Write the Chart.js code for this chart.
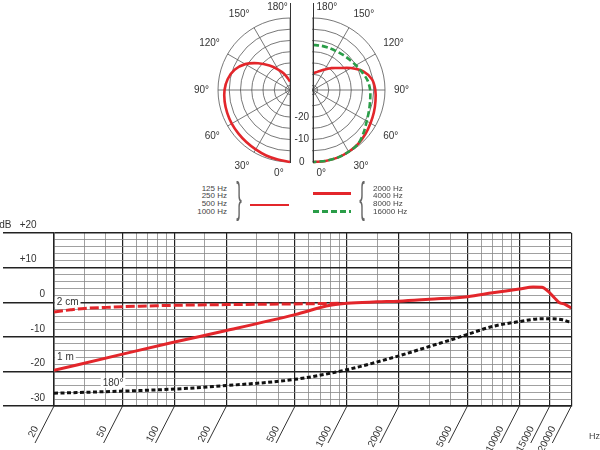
<!DOCTYPE html>
<html>
<head>
<meta charset="utf-8">
<script src="https://cdn.jsdelivr.net/npm/chart.js@4.4.0/dist/chart.umd.min.js"></script>
<style>
  html, body { margin: 0; padding: 0; background: #fff; }
  body { width: 600px; height: 450px; position: relative; overflow: hidden;
         font-family: "Liberation Sans", Arial, sans-serif; color: #333; }
  .abs { position: absolute; }
  .clip { position: absolute; top: 0; height: 185px; overflow: hidden; }
  .clip canvas { position: absolute; top: 1px; }
  .vline { position: absolute; top: 3px; height: 160px; width: 0; border-left: 1px solid #333; }
  .legtext { position: absolute; top: 184.5px; font-size: 8px; line-height: 7.9px; color: #444; white-space: nowrap; }
  .brace { position: absolute; font-size: 42px; line-height: 42px; color: #666; transform: scaleX(0.4); }
</style>
</head>
<body>

<div class="clip" style="left:0; width:291px;">
  <canvas id="polarLeft" width="220" height="178" style="left:180px;"></canvas>
</div>
<div class="clip" style="left:312px; width:288px;">
  <canvas id="polarRight" width="220" height="178" style="left:-109px;"></canvas>
</div>
<div class="vline" style="left:290px;"></div>
<div class="vline" style="left:313px;"></div>
<canvas id="polarTicks" class="abs" width="24" height="95" style="left:291px; top:80px;"></canvas>

<div class="legtext" style="right:373px; text-align:right;">125 Hz<br>250 Hz<br>500 Hz<br>1000 Hz</div>
<div class="brace" style="left:232px; top:177px;">}</div>
<div class="abs" style="left:250px; top:203.5px; width:39px; height:2px; background:#e3262b;"></div>
<div class="abs" style="left:313px; top:191.5px; width:38px; height:3px; background:#e3262b;"></div>
<div class="abs" style="left:313px; top:209.5px; width:38px; height:3px;
     background:repeating-linear-gradient(to right, #2a9d48 0 6px, transparent 6px 9px);"></div>
<div class="brace" style="left:355px; top:177px;">{</div>
<div class="legtext" style="left:373px;">2000 Hz<br>4000 Hz<br>8000 Hz<br>16000 Hz</div>

<canvas id="response" class="abs" width="600" height="230" style="left:0; top:220px;"></canvas>
<div class="abs" style="left:589px; top:431px; font-size:9px; color:#444;">Hz</div>

<script>
// polar pattern: level in dB at each angle (0 = front)
const polarAngles = [0, 10, 20, 30, 40, 50, 60, 70, 80, 90, 100, 110, 120, 130, 140, 150, 160, 170, 180];
const lowDb  = [0, -0.6, -1.0, -1.5, -1.8, -2.0, -2.1, -2.3, -2.5, -2.9, -3.9, -5.8, -9.0, -13.5, -17.8, -21.5, -24.3, -26.8, -28.3];
const midDb  = [0, 0, 0, -0.3, -0.8, -1.6, -2.5, -3.2, -3.8, -4.3, -5.3, -8.0, -12.5, -16.8, -19.3, -21.5, -23.0, -24.0, -24.6];
const highDb = [0, 0, 0, -0.3, -0.8, -2.6, -4.4, -5.5, -6.2, -6.6, -7.4, -8.8, -10.0, -10.9, -11.5, -11.9, -12.0, -12.0, -12.0];
const polarRings = [-30, -25, -20, -15, -10, -5, 0];
const polarTickLabels = [-20, -10, 0];

// frequency response
const nearHz = [20, 25, 30, 40, 50, 70, 100, 200, 500, 900];
const nearDb = [-2.8, -2.2, -1.8, -1.5, -1.3, -1.1, -0.9, -0.7, -0.5, -0.3];
const farHz = [20, 50, 100, 200, 500, 800, 1000, 1500, 2000, 3000, 5000, 7000, 10000, 12000, 13500, 14700, 16000, 17000, 18400, 20000];
const farDb = [-19.7, -15.0, -11.5, -8.2, -3.6, -0.9, -0.3, 0.1, 0.3, 0.85, 1.6, 2.7, 3.8, 4.4, 4.3, 3.1, 1.2, -0.1, -0.6, -1.7];
const rearHz = [20, 50, 100, 200, 500, 1000, 2000, 3000, 4000, 5000, 7000, 10000, 13300, 15000, 17800, 20000];
const rearDb = [-26.3, -25.7, -25.1, -24.1, -22.3, -19.5, -15.5, -12.8, -10.9, -9.3, -7.0, -5.6, -4.8, -4.8, -5.1, -5.9];

const gridHz = [20, 30, 40, 50, 60, 70, 80, 90, 100, 150, 200, 300, 400, 500, 600, 700, 800, 900,
                1000, 1500, 2000, 3000, 4000, 5000, 6000, 7000, 8000, 9000, 10000, 15000, 20000];
const labelHz = [20, 50, 100, 200, 500, 1000, 2000, 5000, 10000, 15000, 20000];
const dbTicks = [-30, -28, -26, -24, -22, -20, -18, -16, -14, -12, -10, -8, -6, -4, -2,
                 0, 2, 4, 6, 8, 10, 12, 14, 16, 18, 20];

const curveNotes = [
  { text: "2 cm", hz: 24, db: 0 },
  { text: "1 m", hz: 23.3, db: -16 },
  { text: "180°", hz: 44, db: -23.3 }
];

Chart.defaults.font.family = '"Liberation Sans", Arial, sans-serif';
Chart.defaults.color = "#333";

const RED = "#e3262b";
const GREEN = "#2a9d48";

function polar(id, labels, datasets, startAngle, edgeText) {
  new Chart(id, {
    type: "radar",
    data: { labels: labels, datasets: datasets },
    options: {
      responsive: false,
      animation: false,
      plugins: { legend: { display: false }, tooltip: { enabled: false } },
      elements: { point: { radius: 0 }, line: { tension: 0.3 } },
      scales: {
        r: {
          min: -32, max: 0,
          startAngle: startAngle,
          afterBuildTicks: (s) => { s.ticks = polarRings.map(v => ({ value: v })); },
          ticks: { display: false },
          grid: { circular: true, color: "#555", lineWidth: 0.8 },
          angleLines: { color: "#555", lineWidth: (c) => (labels[c.index] % 30 === 0 ? 0.8 : 0) },
          pointLabels: {
            padding: (c) => (labels[c.index] % 30 === 0 && labels[c.index] % 180 !== 0 ? 9 : 5),
            color: "#333",
            font: { size: 10 },
            callback: (label) => {
              if (label % 30 !== 0) return "";
              if (label === 0 || label === 180) return edgeText(label + "°", label);
              return label + "°";
            }
          }
        }
      }
    }
  });
}

function line(values, color, width, dash) {
  return {
    data: values,
    borderColor: color,
    borderWidth: width,
    borderDash: dash,
    fill: false,
    spanGaps: false
  };
}

const hidden = polarAngles.slice(1, -1).map(() => null);

// left half: 0 at the bottom, turning clockwise to 180 at the top
const leftLabels = polarAngles.concat(polarAngles.slice(1, -1).reverse());
polar("polarLeft", leftLabels,
  [line(lowDb.concat(hidden), RED, 2.6, [])],
  180,
  (t, a) => t + (a === 0 ? "        " : "         "));

// right half: 180 at the top, turning clockwise to 0 at the bottom
const rightLabels = polarAngles.slice().reverse().concat(polarAngles.slice(1, -1));
polar("polarRight", rightLabels,
  [line(highDb.slice().reverse().concat(hidden), GREEN, 2.6, [6, 3]),
   line(midDb.slice().reverse().concat(hidden), RED, 2.6, [])],
  0,
  (t, a) => (a === 0 ? "      " : "          ") + t);

new Chart("polarTicks", {
  type: "scatter",
  data: { datasets: [] },
  options: {
    responsive: false,
    animation: false,
    layout: { padding: { top: 10, bottom: 13 } },
    plugins: { legend: { display: false }, tooltip: { enabled: false } },
    scales: {
      x: { display: false },
      y: {
        min: -32, max: 0, reverse: true,
        afterBuildTicks: (s) => { s.ticks = polarTickLabels.map(v => ({ value: v })); },
        afterFit: (s) => { s.width = 22; },
        grid: { display: false, drawTicks: false },
        border: { display: false },
        ticks: { autoSkip: false, crossAlign: "center", padding: 4, color: "#333", font: { size: 10 }, callback: (v) => String(v) }
      }
    }
  }
});

const isMajorHz = (v) => labelHz.includes(v);

const axisDecor = {
  id: "axisDecor",
  beforeDatasetsDraw(chart) {
    const { ctx, scales: { x, y } } = chart;
    ctx.save();
    ctx.font = '10px "Liberation Sans", Arial, sans-serif';
    ctx.textAlign = "center";
    ctx.textBaseline = "middle";
    curveNotes.forEach((n) => {
      const px = x.getPixelForValue(n.hz);
      const py = y.getPixelForValue(n.db);
      const w = ctx.measureText(n.text).width + 4;
      ctx.fillStyle = "#fff";
      ctx.fillRect(px - w / 2, py - 5, w, 10);
      ctx.fillStyle = "#333";
      ctx.fillText(n.text, px, py);
    });
    ctx.restore();
  },
  afterDraw(chart) {
    const { ctx, scales: { x }, chartArea } = chart;
    ctx.save();
    ctx.strokeStyle = "#333";
    ctx.lineWidth = 1;
    labelHz.forEach((v) => {
      const px = x.getPixelForValue(v);
      ctx.beginPath();
      ctx.moveTo(px, chartArea.bottom);
      ctx.lineTo(px - 19, chartArea.bottom + 37);
      ctx.stroke();
    });
    ctx.restore();
  }
};

function xy(hz, db) {
  return hz.map((h, i) => ({ x: h, y: db[i] }));
}

new Chart("response", {
  type: "line",
  data: {
    datasets: [
      { label: "2 cm", data: xy(nearHz, nearDb), borderColor: RED, borderWidth: 3, borderDash: [9, 3] },
      { label: "1 m", data: xy(farHz, farDb), borderColor: RED, borderWidth: 3 },
      { label: "180°", data: xy(rearHz, rearDb), borderColor: "#111", borderWidth: 3, borderDash: [4, 2.5] }
    ]
  },
  options: {
    responsive: false,
    animation: false,
    layout: { padding: { top: 13, right: 13, left: 0, bottom: 0 } },
    plugins: { legend: { display: false }, tooltip: { enabled: false } },
    elements: { point: { radius: 0 }, line: { cubicInterpolationMode: "monotone", fill: false } },
    scales: {
      x: {
        type: "logarithmic",
        min: 20, max: 20000,
        afterBuildTicks: (s) => { s.ticks = gridHz.map(v => ({ value: v })); },
        afterFit: (s) => { s.height = 44; },
        grid: {
          drawTicks: false,
          color: (c) => (c.tick && isMajorHz(c.tick.value) ? "#222" : "#888"),
          lineWidth: (c) => (c.tick && isMajorHz(c.tick.value) ? 1.2 : 0.8)
        },
        border: { color: "#222", width: 1.5 },
        ticks: {
          autoSkip: false,
          minRotation: 63, maxRotation: 63,
          padding: 18,
          labelOffset: -18,
          color: "#333",
          font: { size: 10 },
          callback: (v) => (isMajorHz(v) ? String(v) : "")
        }
      },
      y: {
        min: -30, max: 20,
        afterBuildTicks: (s) => { s.ticks = dbTicks.map(v => ({ value: v })); },
        afterFit: (s) => { s.width = 54; },
        grid: {
          color: (c) => (c.tick && c.tick.value % 10 === 0 ? "#222" : "#888"),
          lineWidth: (c) => (c.tick && c.tick.value % 10 === 0 ? 1.4 : 0.8),
          tickLength: 51,
          tickWidth: 1.4,
          tickColor: (c) => (c.tick && c.tick.value % 10 === 0 ? "#222" : "rgba(0,0,0,0)")
        },
        border: { color: "#222", width: 1.5 },
        ticks: {
          autoSkip: false,
          padding: -42,
          labelOffset: -8,
          color: "#333",
          font: { size: 10 },
          callback: (v) => {
            if (v % 10 !== 0) return "";
            if (v === 20) return "dB   +20   ";
            if (v > 0) return "+" + v + "   ";
            return String(v);
          }
        }
      }
    }
  },
  plugins: [axisDecor]
});
</script>
</body>
</html>
